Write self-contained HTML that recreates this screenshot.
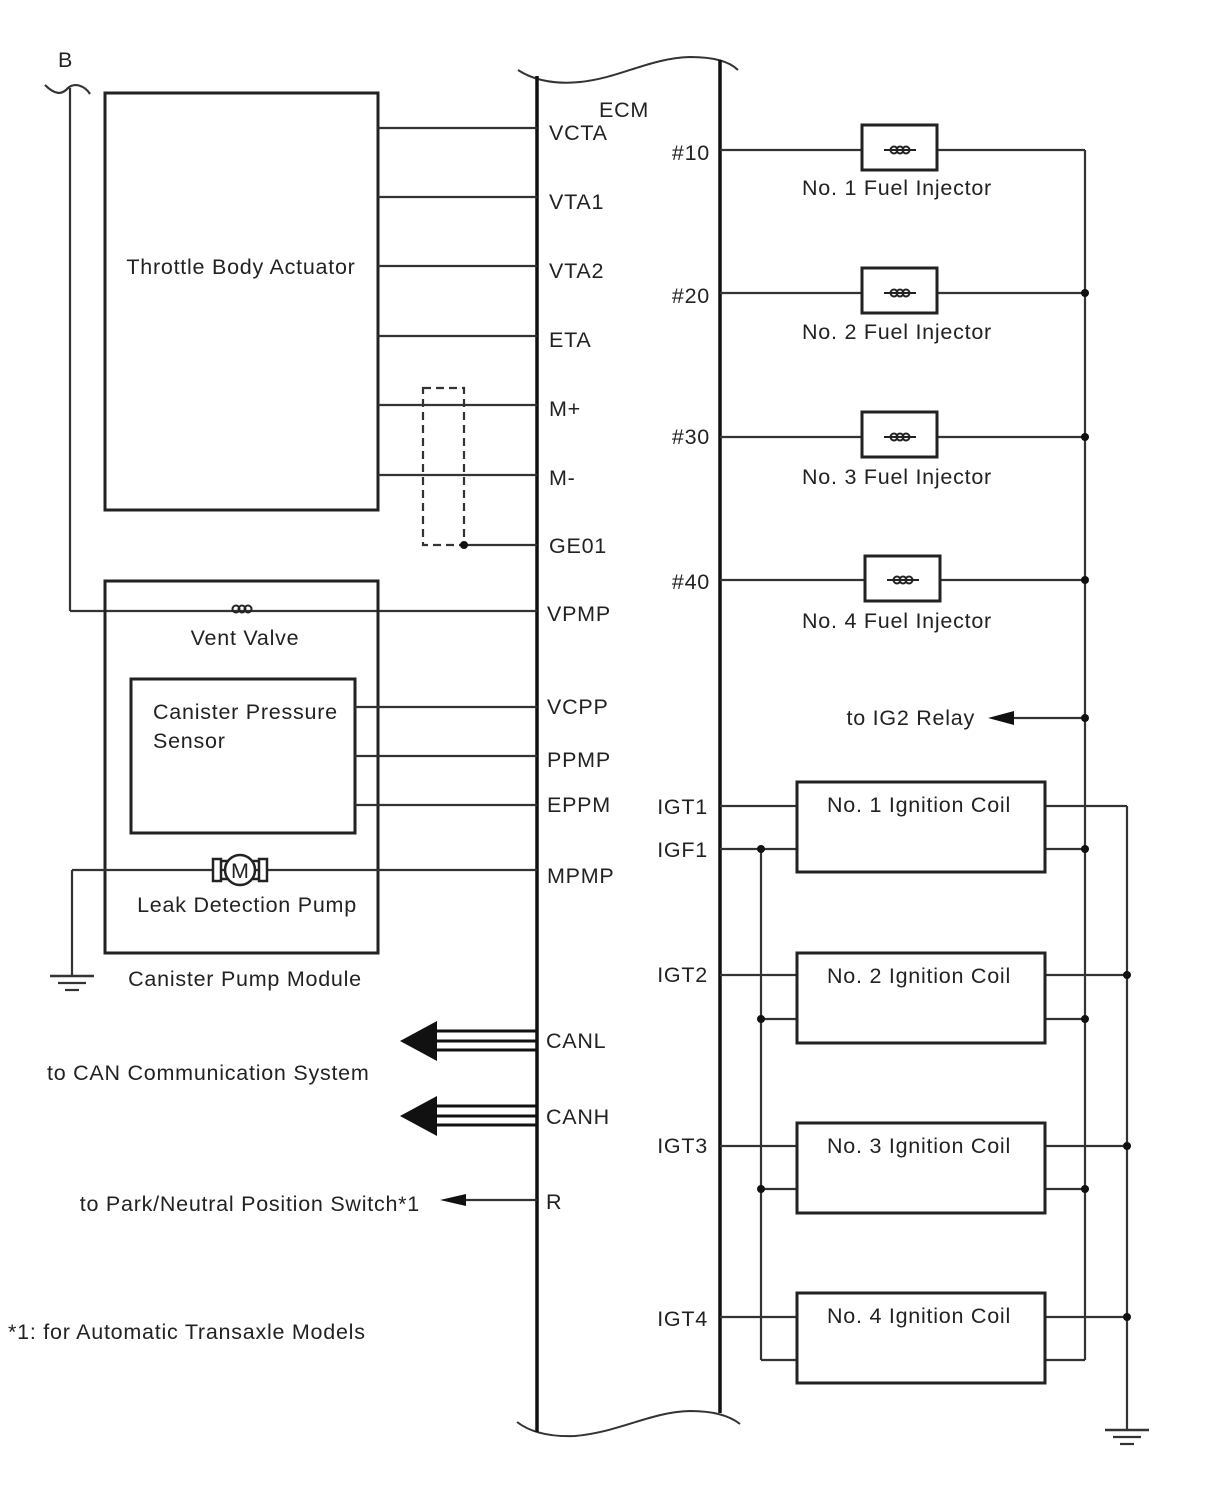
<!DOCTYPE html>
<html><head><meta charset="utf-8"><style>
html,body{margin:0;padding:0;background:#fff}
svg text{font-family:"Liberation Sans",sans-serif;font-size:21.5px;letter-spacing:0.75px;fill:#222}
</style></head><body>
<svg width="1210" height="1498" viewBox="0 0 1210 1498" xmlns="http://www.w3.org/2000/svg">
<g stroke="#333" fill="none" stroke-width="2.2">
<path d="M518,70 C530,78 550,85 580,82 C620,78 650,58 690,57 C715,57 730,62 738,70" stroke-width="2"/>
<path d="M517,1422 C530,1432 550,1437 575,1436 C620,1432 650,1412 690,1411 C715,1411 730,1416 740,1424" stroke-width="2"/>
<line x1="537" y1="76" x2="537" y2="1432" stroke-width="3.5" stroke="#111"/>
<line x1="720" y1="60" x2="720" y2="1413" stroke-width="3.5" stroke="#111"/>
<path d="M45,85 C55,95 62,95 68,88 C75,82 85,86 90,94"/>
<line x1="70" y1="88" x2="70" y2="611"/>
<line x1="70" y1="611" x2="537" y2="611"/>
<rect x="105" y="93" width="273" height="417" stroke-width="3" stroke="#222"/>
<line x1="378" y1="128" x2="537" y2="128"/>
<line x1="378" y1="197" x2="537" y2="197"/>
<line x1="378" y1="266" x2="537" y2="266"/>
<line x1="378" y1="336" x2="537" y2="336"/>
<line x1="378" y1="405" x2="537" y2="405"/>
<line x1="378" y1="475" x2="537" y2="475"/>
<rect x="423" y="388" width="41" height="157" stroke-dasharray="8,5"/>
<line x1="464" y1="545" x2="537" y2="545"/>
<rect x="105" y="581" width="273" height="372" stroke-width="3" stroke="#222"/>
<rect x="131" y="679" width="224" height="154" stroke-width="3" stroke="#222"/>
<line x1="355" y1="707" x2="537" y2="707"/>
<line x1="355" y1="756" x2="537" y2="756"/>
<line x1="355" y1="805" x2="537" y2="805"/>
<line x1="72" y1="870" x2="537" y2="870"/>
<line x1="72" y1="870" x2="72" y2="975"/>
<line x1="50" y1="976" x2="94" y2="976" stroke-width="2.5"/>
<line x1="58" y1="983" x2="86" y2="983"/>
<line x1="65" y1="990" x2="79" y2="990"/>
<line x1="465" y1="1200" x2="537" y2="1200"/>
<line x1="720" y1="150" x2="1085" y2="150"/>
<line x1="720" y1="293" x2="1085" y2="293"/>
<line x1="720" y1="437" x2="1085" y2="437"/>
<line x1="720" y1="580" x2="1085" y2="580"/>
<line x1="1085" y1="150" x2="1085" y2="1360"/>
<line x1="1010" y1="718" x2="1085" y2="718"/>
<line x1="761" y1="849" x2="761" y2="1360"/>
<line x1="1127" y1="806" x2="1127" y2="1430"/>
<line x1="1105" y1="1430" x2="1149" y2="1430" stroke-width="2.5"/>
<line x1="1113" y1="1437" x2="1141" y2="1437"/>
<line x1="1120" y1="1444" x2="1134" y2="1444"/>
</g>
<g fill="#fff" stroke="#222" stroke-width="3">
<rect x="862" y="125" width="75" height="45"/>
<rect x="862" y="268" width="75" height="45"/>
<rect x="862" y="412" width="75" height="45"/>
<rect x="865" y="556" width="75" height="45"/>
</g>
<g stroke="#222" fill="none" stroke-width="2">
<line x1="884" y1="150" x2="916" y2="150"/>
<circle cx="894" cy="150" r="3.5"/><circle cx="900" cy="150" r="3.5"/><circle cx="906" cy="150" r="3.5"/>
<line x1="884" y1="293" x2="916" y2="293"/>
<circle cx="894" cy="293" r="3.5"/><circle cx="900" cy="293" r="3.5"/><circle cx="906" cy="293" r="3.5"/>
<line x1="884" y1="437" x2="916" y2="437"/>
<circle cx="894" cy="437" r="3.5"/><circle cx="900" cy="437" r="3.5"/><circle cx="906" cy="437" r="3.5"/>
<line x1="887" y1="580" x2="919" y2="580"/>
<circle cx="897" cy="580" r="3.5"/><circle cx="903" cy="580" r="3.5"/><circle cx="909" cy="580" r="3.5"/>
<circle cx="236" cy="609" r="3.5"/><circle cx="242" cy="609" r="3.5"/><circle cx="248" cy="609" r="3.5"/>
</g>
<g stroke="#333" stroke-width="2.2" fill="none">
<path d="M720,806 H797 M720,849 H797 M1045,806 H1127 M1045,849 H1085"/>
<path d="M720,975 H797 M761,1019 H797 M1045,975 H1127 M1045,1019 H1085"/>
<path d="M720,1146 H797 M761,1189 H797 M1045,1146 H1127 M1045,1189 H1085"/>
<path d="M720,1317 H797 M761,1360 H797 M1045,1317 H1127 M1045,1360 H1085"/>
</g>
<g fill="#fff" stroke="#222" stroke-width="3">
<rect x="797" y="782" width="248" height="90"/>
<rect x="797" y="953" width="248" height="90"/>
<rect x="797" y="1123" width="248" height="90"/>
<rect x="797" y="1293" width="248" height="90"/>
</g>
<g stroke="#222" stroke-width="2.5" fill="#fff">
<rect x="213" y="859" width="8" height="22"/>
<rect x="259" y="859" width="8" height="22"/>
<line x1="221" y1="861" x2="259" y2="861"/>
<line x1="221" y1="879" x2="259" y2="879"/>
<circle cx="240" cy="870" r="15"/>
</g>
<text x="240" y="878" text-anchor="middle" font-size="20" style="letter-spacing:0">M</text>
<g fill="#111">
<circle cx="464" cy="545" r="4"/>
<circle cx="1085" cy="293" r="4"/><circle cx="1085" cy="437" r="4"/><circle cx="1085" cy="580" r="4"/><circle cx="1085" cy="718" r="4"/>
<circle cx="1085" cy="849" r="4"/><circle cx="1085" cy="1019" r="4"/><circle cx="1085" cy="1189" r="4"/>
<circle cx="761" cy="849" r="4"/><circle cx="761" cy="1019" r="4"/><circle cx="761" cy="1189" r="4"/>
<circle cx="1127" cy="975" r="4"/><circle cx="1127" cy="1146" r="4"/><circle cx="1127" cy="1317" r="4"/>
<polygon points="988,718 1014,711 1014,725"/>
<polygon points="440,1200 466,1194 466,1206"/>
<polygon points="400,1041 437,1021 437,1061"/>
<polygon points="400,1116 437,1096 437,1136"/>
</g>
<g stroke="#111" stroke-width="3">
<path d="M435,1031 H537 M435,1041 H537 M435,1050 H537"/>
<path d="M435,1106 H537 M435,1116 H537 M435,1125 H537"/>
</g>
<text x="58" y="67">B</text>
<text x="599" y="117">ECM</text>
<text x="549" y="140">VCTA</text>
<text x="549" y="209">VTA1</text>
<text x="549" y="278">VTA2</text>
<text x="549" y="347">ETA</text>
<text x="549" y="416">M+</text>
<text x="549" y="485">M-</text>
<text x="549" y="553">GE01</text>
<text x="547" y="621">VPMP</text>
<text x="547" y="714">VCPP</text>
<text x="547" y="767">PPMP</text>
<text x="547" y="812">EPPM</text>
<text x="547" y="883">MPMP</text>
<text x="546" y="1048">CANL</text>
<text x="546" y="1124">CANH</text>
<text x="546" y="1209">R</text>
<text x="241" y="274" text-anchor="middle">Throttle Body Actuator</text>
<text x="245" y="645" text-anchor="middle">Vent Valve</text>
<text x="153" y="719">Canister Pressure</text>
<text x="153" y="748">Sensor</text>
<text x="247" y="912" text-anchor="middle">Leak Detection Pump</text>
<text x="245" y="986" text-anchor="middle">Canister Pump Module</text>
<text x="47" y="1080">to CAN Communication System</text>
<text x="420" y="1211" text-anchor="end">to Park/Neutral Position Switch*1</text>
<text x="8" y="1339">*1: for Automatic Transaxle Models</text>
<text x="710" y="160" text-anchor="end">#10</text>
<text x="710" y="303" text-anchor="end">#20</text>
<text x="710" y="444" text-anchor="end">#30</text>
<text x="710" y="589" text-anchor="end">#40</text>
<text x="897" y="195" text-anchor="middle">No. 1 Fuel Injector</text>
<text x="897" y="339" text-anchor="middle">No. 2 Fuel Injector</text>
<text x="897" y="484" text-anchor="middle">No. 3 Fuel Injector</text>
<text x="897" y="628" text-anchor="middle">No. 4 Fuel Injector</text>
<text x="975" y="725" text-anchor="end">to IG2 Relay</text>
<text x="708" y="814" text-anchor="end">IGT1</text>
<text x="708" y="857" text-anchor="end">IGF1</text>
<text x="708" y="982" text-anchor="end">IGT2</text>
<text x="708" y="1153" text-anchor="end">IGT3</text>
<text x="708" y="1326" text-anchor="end">IGT4</text>
<text x="919" y="812" text-anchor="middle">No. 1 Ignition Coil</text>
<text x="919" y="983" text-anchor="middle">No. 2 Ignition Coil</text>
<text x="919" y="1153" text-anchor="middle">No. 3 Ignition Coil</text>
<text x="919" y="1323" text-anchor="middle">No. 4 Ignition Coil</text>
</svg>
</body></html>
